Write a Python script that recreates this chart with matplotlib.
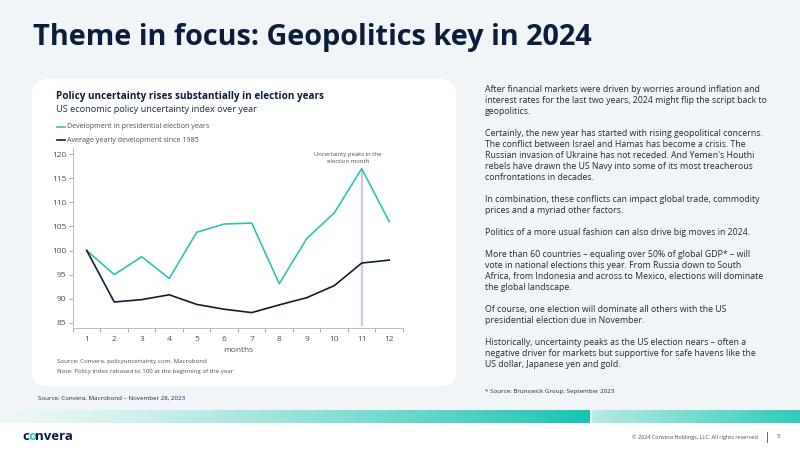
import numpy as np
import matplotlib
matplotlib.use("Agg")
from matplotlib import pyplot as plt
from matplotlib.patches import FancyBboxPatch
from matplotlib.lines import Line2D

plt.rcParams['font.family'] = ['Open Sans', 'DejaVu Sans']

# data
months = list(range(1, 13))
election_years = [100, 95.0, 98.7, 94.2, 103.8, 105.5, 105.7, 93.1, 102.5, 107.8, 117.0, 106.0]
average_1985 = [100, 89.3, 89.8, 90.8, 88.8, 87.8, 87.1, 88.7, 90.2, 92.7, 97.4, 98.0]
y_ticks = [85, 90, 95, 100, 105, 110, 115, 120]
peak_month = 11

title = "Theme in focus: Geopolitics key in 2024"
chart_title = "Policy uncertainty rises substantially in election years"
chart_sub = "US economic policy uncertainty index over year"
legend_labels = ["Development in presidential election years",
                 "Average yearly development since 1985"]
paragraphs = [
    ["After financial markets were driven by worries around inflation and",
     "interest rates for the last two years, 2024 might flip the script back to",
     "geopolitics."],
    ["Certainly, the new year has started with rising geopolitical concerns.",
     "The conflict between Israel and Hamas has become a crisis. The",
     "Russian invasion of Ukraine has not receded. And Yemen's Houthi",
     "rebels have drawn the US Navy into some of its most treacherous",
     "confrontations in decades."],
    ["In combination, these conflicts can impact global trade, commodity",
     "prices and a myriad other factors."],
    ["Politics of a more usual fashion can also drive big moves in 2024."],
    ["More than 60 countries \u2013 equaling over 50% of global GDP* \u2013 will",
     "vote in national elections this year. From Russia down to South",
     "Africa, from Indonesia and across to Mexico, elections will dominate",
     "the global landscape."],
    ["Of course, one election will dominate all others with the US",
     "presidential election due in November."],
    ["Historically, uncertainty peaks as the US election nears \u2013 often a",
     "negative driver for markets but supportive for safe havens like the",
     "US dollar, Japanese yen and gold."],
]

TEAL = '#2ec4b4'
NAVY = '#0c1e33'
DARK = '#0b1d3a'
GREY = '#4a4f57'

W, H = 800, 450
fig = plt.figure(figsize=(8, 4.5), dpi=100)
fig.patch.set_facecolor('white')

# page background
bg = fig.add_axes([0, 0, 1, 1], zorder=-10)
bg.axis('off')
bg.add_patch(plt.Rectangle((0, 0), W, 410, color='#f1f5f8', lw=0))
# gradient band at the bottom
grad = np.linspace(0, 1, 400)
c0 = np.array([0.93, 0.97, 0.97])
c1 = np.array([0.09, 0.77, 0.70])
left = c0[None, :] * (1 - grad[:, None] ** 1.3) + c1[None, :] * grad[:, None] ** 1.3
bg.imshow(left[None, :, :], extent=(0, 590, 423, 410), aspect='auto', zorder=1)
c2 = np.array([0.72, 0.92, 0.90])
c3 = np.array([0.18, 0.80, 0.73])
right = c2[None, :] * (1 - grad[:, None]) + c3[None, :] * grad[:, None]
bg.imshow(right[None, :, :], extent=(592, 800, 423, 410), aspect='auto', zorder=1)
bg.set_xlim(0, W)
bg.set_ylim(H, 0)

# white card
card = FancyBboxPatch((0.47, 0.79), 3.94, 2.77,
                      boxstyle='round,pad=0.15,rounding_size=0.15',
                      transform=fig.dpi_scale_trans, facecolor='white',
                      edgecolor='none', zorder=-5)
fig.patches.append(card)

def px(x, y):
    return x / W, 1 - y / H

fig.text(*px(33, 38), title, fontsize=20.8, fontweight='bold', color=DARK,
         va='center', ha='left')

fig.text(*px(56, 97), chart_title, fontsize=7.1, fontweight='bold', color=DARK,
         va='center')
fig.text(*px(56, 110), chart_sub, fontsize=6.6, color='#1f2a3a', va='center')
for i, (lab, col) in enumerate(zip(legend_labels, [TEAL, NAVY])):
    yy = 127 + 13 * i
    fig.add_artist(Line2D([57 / W, 65 / W], [1 - yy / H] * 2, color=col, lw=1.2))
    fig.text(*px(67, yy), lab, fontsize=5.1, color=GREY, va='center')

# chart
ax = fig.add_axes([73 / W, 1 - 328 / H, 330 / W, 180 / H])
ax.plot(months, election_years, color=TEAL, lw=1.2, zorder=3)
ax.plot(months, average_1985, color=NAVY, lw=1.2, zorder=3)
ax.vlines(peak_month, 84.3, max(election_years), color='#cbc8f0', lw=1.6, zorder=2)
ax.text(peak_month - 0.5, 119.2, "Uncertainty peaks in the\nelection month",
        fontsize=4.3, color=GREY, ha='center', va='center', linespacing=1.4)
ax.set_xlim(0.5, 12.5)
ax.set_ylim(83.9, 121.3)
ax.set_yticks(y_ticks)
ax.set_xticks(months)
ax.set_xticks(np.arange(0.5, 13, 1), minor=True)
ax.tick_params(axis='x', which='major', length=0, pad=6, labelsize=6, labelcolor=GREY)
ax.tick_params(axis='x', which='minor', length=3, color='#9a9a9a', width=0.6)
ax.tick_params(axis='y', length=3, color='#9a9a9a', width=0.6, labelsize=6,
               labelcolor=GREY, pad=2)
for s in ['top', 'right']:
    ax.spines[s].set_visible(False)
for s in ['left', 'bottom']:
    ax.spines[s].set_color('#b0b0b0')
    ax.spines[s].set_linewidth(0.6)
ax.set_xlabel('months', fontsize=6, color=GREY, labelpad=3)
ax.set_facecolor('none')

fig.text(*px(57, 362), "Source: Convera, policyuncertainty.com, Macrobond",
         fontsize=4.45, color=GREY, va='center')
fig.text(*px(57, 372), "Note: Policy index rebased to 100 at the beginning of the year",
         fontsize=4.45, color=GREY, va='center')
fig.text(*px(38, 398), "Source: Convera, Macrobond \u2013 November 28, 2023",
         fontsize=4.5, color='#1f2a3a', va='center')

# right column text, one line at a time on a fixed baseline step
y = 89
for para in paragraphs:
    for line in para:
        fig.text(*px(485, y + 3.2), line, fontsize=6.3, color='#1f2a3a',
                 va='baseline')
        y += 11
    y += 11
fig.text(*px(485, 391), "* Source: Brunswick Group, September 2023",
         fontsize=4.5, color='#1f2a3a', va='center')

# footer
fig.text(*px(22, 437), "c", fontsize=9.5, fontweight='bold', color=DARK, va='center')
fig.text(*px(28.5, 437), "o", fontsize=9.5, fontweight='bold', color=TEAL, va='center')
fig.text(*px(35.5, 437), "nvera", fontsize=9.5, fontweight='bold', color=DARK, va='center')
fig.text(*px(759, 437), "\u00a9 2024 Convera Holdings, LLC. All rights reserved.",
         fontsize=4.0, color=GREY, va='center', ha='right')
fig.add_artist(Line2D([767 / W] * 2, [1 - 432 / H, 1 - 442 / H], color=GREY, lw=0.6))
fig.text(*px(778, 437), "5", fontsize=4.3, color=GREY, va='center', ha='center')

fig.savefig('out.png', dpi=100)
